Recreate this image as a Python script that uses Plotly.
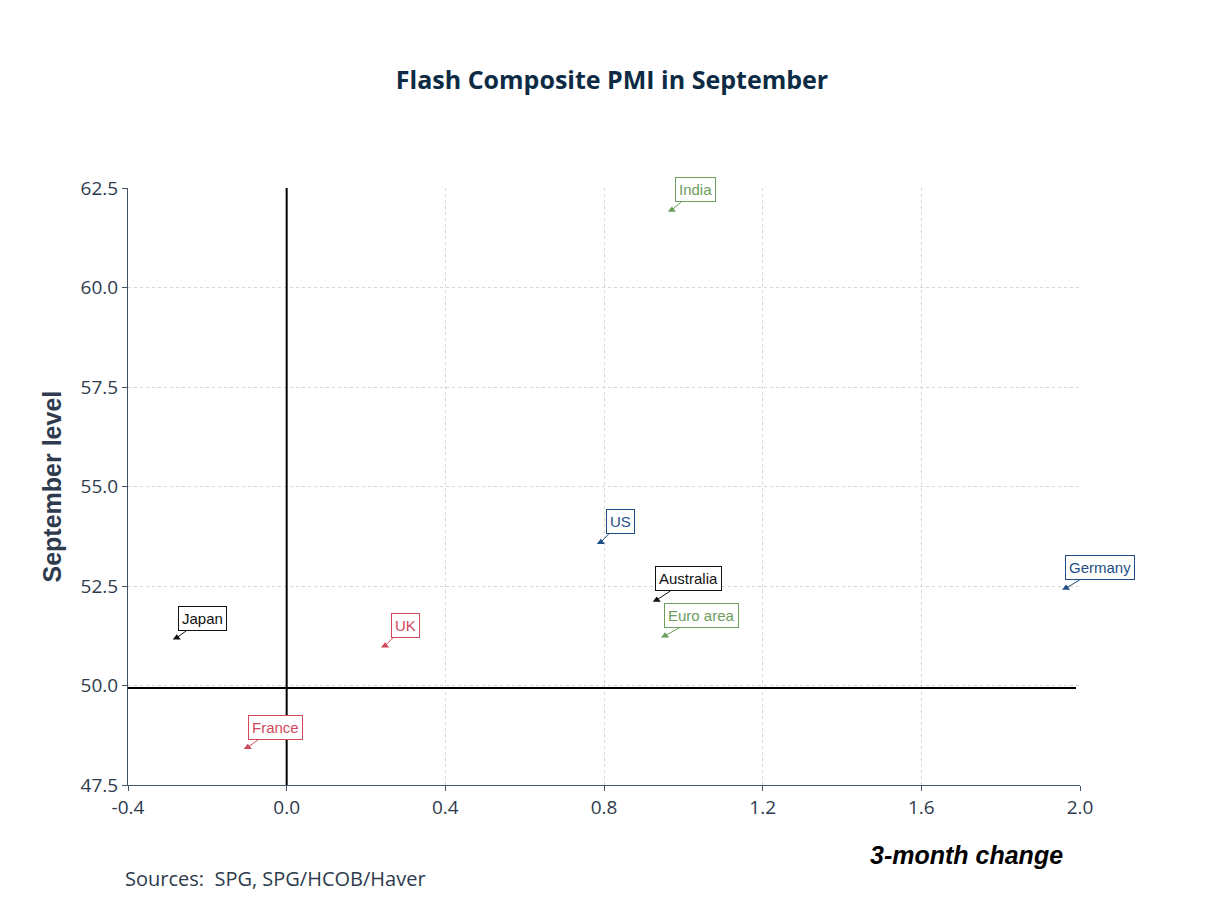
import plotly.graph_objects as go

countries = ["Japan", "UK", "France", "US", "Australia", "Euro area", "India", "Germany"]
change_3m = [-0.277, 0.248, -0.098, 0.792, 0.933, 0.954, 0.971, 1.965]
sept_level = [51.2, 51.0, 48.45, 53.6, 52.15, 51.25, 61.95, 52.45]
colors = ["#111111", "#d0485c", "#d0485c", "#1f4e86", "#111111", "#6b9e5c", "#6b9e5c", "#1f4e86"]
label_offsets = [(26, -19), (20, -20), (28, -20), (20, -21), (32, -21), (36, -20), (24, -20), (34, -20)]

fig = go.Figure()
fig.add_trace(go.Scatter(
    x=change_3m, y=sept_level, mode="markers",
    marker=dict(symbol="triangle-up", size=7, color=colors),
    showlegend=False, hoverinfo="text", text=countries,
))

for name, x, y, c, (ax, ay) in zip(countries, change_3m, sept_level, colors, label_offsets):
    fig.add_annotation(
        x=x, y=y, text=name, showarrow=True, arrowhead=0, arrowwidth=1, arrowcolor=c,
        ax=ax, ay=ay, font=dict(family="Liberation Sans, Arial", size=15, color=c),
        bordercolor=c, borderwidth=1, borderpad=3, bgcolor="white",
    )

# reference lines
fig.add_shape(type="line", x0=0, x1=0, y0=47.5, y1=62.5, line=dict(color="black", width=2))
fig.add_shape(type="line", x0=-0.4, x1=1.99, y0=49.94, y1=49.94, line=dict(color="black", width=2))

axis_style = dict(
    showgrid=True, gridcolor="#d6d6d6", griddash="dot", gridwidth=1, zeroline=False,
    showline=True, linecolor="#44546a", ticks="outside", tickcolor="#44546a",
    tickfont=dict(family="Open Sans", size=19, color="#2e3b4e"),
)
fig.update_xaxes(
    range=[-0.4, 2.0], tickvals=[-0.4, 0.0, 0.4, 0.8, 1.2, 1.6, 2.0],
    ticktext=["-0.4", "0.0", "0.4", "0.8", "1.2", "1.6", "2.0"], **axis_style,
)
fig.update_yaxes(
    range=[47.5, 62.5], tickvals=[47.5, 50.0, 52.5, 55.0, 57.5, 60.0, 62.5],
    ticktext=["47.5", "50.0", "52.5", "55.0", "57.5", "60.0", "62.5"], **axis_style,
)

fig.add_annotation(text="<b><i>3-month change</i></b>", xref="paper", yref="paper",
                   x=1.0, y=-0.09, xanchor="right", yanchor="top", showarrow=False,
                   xshift=-15, font=dict(family="Liberation Sans, Arial", size=25, color="black"))
fig.add_annotation(text="<b>September level</b>", xref="paper", yref="paper",
                   x=0, y=0.5, xshift=-93, textangle=-90, showarrow=False,
                   font=dict(family="Liberation Sans, Arial", size=25, color="#2e3b4e"))
fig.add_annotation(text="Sources:  SPG, SPG/HCOB/Haver", xref="paper", yref="paper",
                   x=0, y=-0.13, xanchor="left", yanchor="top", showarrow=False, xshift=-5,
                   font=dict(family="Open Sans", size=20, color="#2e3b4e"))

fig.update_layout(
    title=dict(text="<b>Flash Composite PMI in September</b>", x=0.5, xanchor="center", y=0.93,
               font=dict(family="Open Sans", size=25, color="#0d2b45")),
    width=1208, height=906,
    margin=dict(l=120, r=136, t=180, b=129),
    plot_bgcolor="white", paper_bgcolor="white",
)

fig.write_html("out.html")
